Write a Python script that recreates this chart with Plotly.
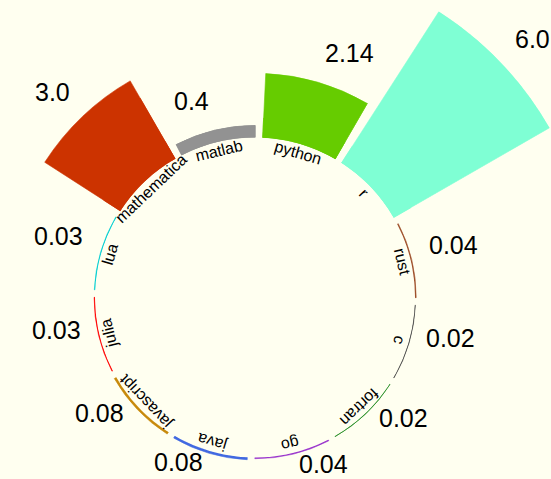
import math
import plotly.graph_objects as go

# ---- data ----
languages = ["python", "r", "rust", "c", "fortran", "go", "java",
             "javascript", "julia", "lua", "mathematica", "matlab"]
values = [2.14, 6.0, 0.04, 0.02, 0.02, 0.04, 0.08, 0.08, 0.03, 0.03, 3.0, 0.4]
colors = ["#66CC00", "#7FFFD4", "#A0522D", "#444444", "#228B22", "#9932CC",
          "#4169E1", "#C88A0B", "#FF0000", "#00CED1", "#CC3300", "#929292"]
value_labels = [str(v) for v in values]

# ---- geometry / style ----
W, H = 551, 479
BG = "#FFFFF0"
CX, CY = 255, 297.5          # centre of the ring (pixels, from top-left)
R_HOLE = 160                 # inner radius (px)
PX_PER_UNIT = 30             # radial scale (px per unit)
STEP = 360 / len(languages)
START = 16.4                 # angle of first category, clockwise from top
BAR_WIDTH = 0.91 * STEP
LABEL_R = 151                # radius of category labels (px)
FONT = "Liberation Sans, Arial, Helvetica, sans-serif"

angles = [START + STEP * i for i in range(len(languages))]

# polar panes sharing one centre and one radial scale:
# (sector [deg, ccw from east], outer radius px)
panes = [((0, 360), 180),        # the ring with all small bars
         ((59, 121), 230),       # python / matlab
         ((119, 149), 255),      # mathematica
         ((29.8, 60), 340)]      # r


def sector_bbox(a0, a1):
    xs, ys = [0.0], [0.0]
    for a in [a0, a1] + [k for k in range(0, 361, 90) if a0 <= k <= a1]:
        xs.append(math.cos(math.radians(a)))
        ys.append(math.sin(math.radians(a)))
    return min(xs), min(ys), max(xs), max(ys)


fig = go.Figure()
layout_polars = {}
for k, (sector, R) in enumerate(panes):
    name = "polar" if k == 0 else f"polar{k + 1}"
    fig.add_trace(go.Barpolar(
        r=values, theta=angles, width=BAR_WIDTH, subplot=name,
        marker=dict(color=colors, line=dict(color=colors, width=0.6)),
        hoverinfo="skip", showlegend=False,
    ))
    x0, y0, x1, y1 = sector_bbox(*sector)
    cy_up = H - CY
    layout_polars[name] = dict(
        domain=dict(x=[(CX + x0 * R) / W, (CX + x1 * R) / W],
                    y=[(cy_up + y0 * R) / H, (cy_up + y1 * R) / H]),
        sector=list(sector),
        hole=R_HOLE / R,
        bgcolor="rgba(0,0,0,0)",
        radialaxis=dict(range=[0, (R - R_HOLE) / PX_PER_UNIT], visible=False),
        angularaxis=dict(type="linear", direction="clockwise", rotation=90,
                         thetaunit="degrees", showgrid=False, showline=False,
                         showticklabels=False, ticks=""),
    )

annotations = []
# category labels, tangential, inside the ring
for name, a in zip(languages, angles):
    t = math.radians(a)
    xp = CX + LABEL_R * math.sin(t)
    yp = CY - LABEL_R * math.cos(t)
    annotations.append(dict(
        x=xp / W, y=1 - yp / H, xref="paper", yref="paper",
        text=name, showarrow=False, xanchor="center", yanchor="middle",
        textangle=a if a <= 180 else a - 360,
        font=dict(size=16, color="black", family=FONT),
    ))

# value labels just outside the end of each bar
PAD_X, PAD_Y, RISE = 16, 20, 10
for v, a, txt in zip(values, angles, value_labels):
    t = math.radians(a)
    s, c = math.sin(t), math.cos(t)
    rr = R_HOLE + v * PX_PER_UNIT
    xp = CX + (rr + PAD_X) * s
    yp = CY - (rr + PAD_Y) * c - RISE
    annotations.append(dict(
        x=xp / W, y=1 - yp / H, xref="paper", yref="paper",
        text=txt, showarrow=False,
        xanchor="left" if s >= 0 else "right", yanchor="middle",
        font=dict(size=25, color="black", family=FONT),
    ))

fig.update_layout(
    width=W, height=H,
    margin=dict(l=0, r=0, t=0, b=0),
    paper_bgcolor=BG, plot_bgcolor=BG,
    showlegend=False,
    annotations=annotations,
    **layout_polars,
)

fig.write_html(
    "out.html",
    config={"displayModeBar": False},
    post_script="document.body.style.margin='0';"
                "document.body.style.background='#FFFFF0';"
                "document.documentElement.style.overflow='hidden';",
)
